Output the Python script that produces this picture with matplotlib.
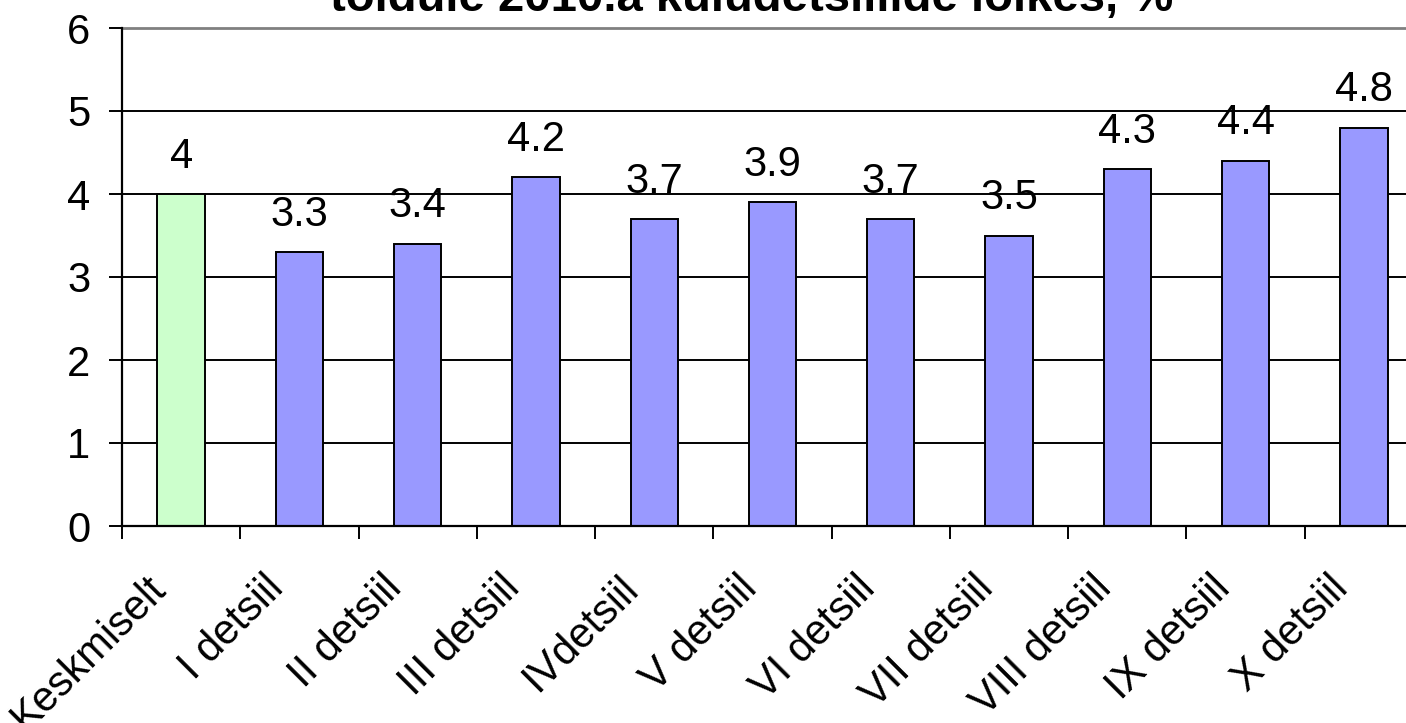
import matplotlib
matplotlib.use("Agg")
import matplotlib.pyplot as plt
import matplotlib.transforms as mtransforms
import numpy as np

categories = ["Keskmiselt", "I detsiil", "II detsiil", "III detsiil", "IVdetsiil",
              "V detsiil", "VI detsiil", "VII detsiil", "VIII detsiil", "IX detsiil", "X detsiil"]
values = [4, 3.3, 3.4, 4.2, 3.7, 3.9, 3.7, 3.5, 4.3, 4.4, 4.8]
value_labels = ["4", "3.3", "3.4", "4.2", "3.7", "3.9", "3.7", "3.5", "4.3", "4.4", "4.8"]
title_text = "toidule 2010.a kuludetsiilide lõikes, %"

plt.rcParams['font.family'] = ['Liberation Sans', 'DejaVu Sans']

W, H = 1406, 723
fig = plt.figure(figsize=(W / 100, H / 100), dpi=100)
ax_left, ax_right, ax_top, ax_bottom = 122, 1423, 28, 526
ax = fig.add_axes([ax_left / W, 1 - ax_bottom / H, (ax_right - ax_left) / W, (ax_bottom - ax_top) / H])

x = np.arange(len(categories))
colors = ["#CCFFCC"] + ["#9999FF"] * (len(categories) - 1)
ax.bar(x, values, width=0.4, color=colors, edgecolor="black", linewidth=1.4, zorder=3)

ax.set_xlim(-0.5, len(categories) - 0.5)
ax.set_ylim(0, 6)

for xi, v, lab in zip(x, values, value_labels):
    ax.annotate(lab, (xi, v), xytext=(0, 19), textcoords="offset points",
                ha="center", va="baseline", fontsize=30, zorder=4)

ax.set_yticks(range(0, 7))
ax.yaxis.grid(True, color="black", linewidth=1.4, zorder=1)
ax.tick_params(axis="y", length=9.4, width=1.4, pad=13.5, labelsize=30, direction="out")

# category labels (rotated), anchored at the baseline end near each category centre
ax.set_xticks(x)
ax.set_xticklabels([])
ax.tick_params(axis="x", which="major", length=0)
ax.set_xticks(np.arange(-0.5, len(categories) + 0.5, 1), minor=True)
ax.tick_params(axis="x", which="minor", length=9.4, width=1.4, direction="out")

base = mtransforms.blended_transform_factory(ax.transData, ax.transAxes)
offset = mtransforms.ScaledTranslation(-14 / 100, -64 / 100, fig.dpi_scale_trans)
for xi, cat in zip(x, categories):
    ax.text(xi, 0, cat, transform=base + offset, rotation=45, rotation_mode="anchor",
            ha="right", va="baseline", fontsize=30, clip_on=False)

ax.spines["right"].set_visible(False)
ax.spines["top"].set_color("#808080")
ax.spines["top"].set_linewidth(2)
ax.spines["left"].set_linewidth(1.6)
ax.spines["bottom"].set_linewidth(1.6)
ax.spines["left"].set_zorder(5)
ax.spines["bottom"].set_zorder(5)

fig.text(752 / W, 1 - 11 / H, title_text, ha="center", va="baseline",
         fontsize=34, fontweight="bold")

fig.savefig("out.png", dpi=100)
